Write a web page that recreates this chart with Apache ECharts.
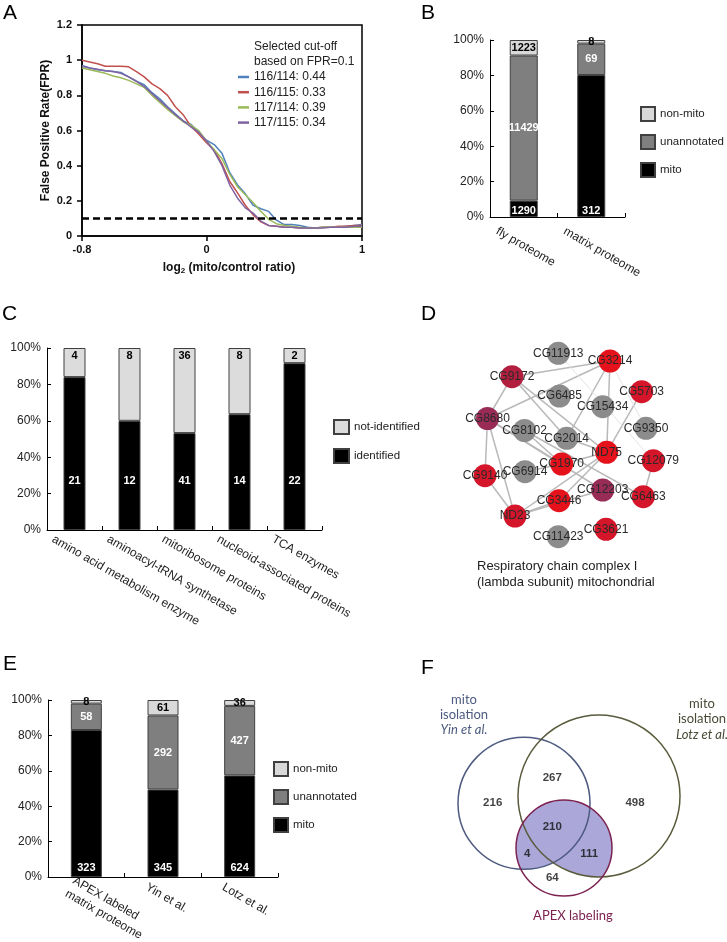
<!DOCTYPE html>
<html><head><meta charset="utf-8">
<script src="https://cdn.jsdelivr.net/npm/echarts@6.0.0/dist/echarts.min.js"></script>
<style>html,body{margin:0;padding:0;background:#fff}#c{width:727px;height:942px}</style>
</head><body><div id="c"></div>
<script>
// ---------- Panel A data ----------
const fprX = [-0.8,-0.75,-0.7,-0.65,-0.6,-0.55,-0.5,-0.45,-0.4,-0.35,-0.3,-0.25,-0.2,-0.15,-0.1,-0.05,0,0.05,0.1,0.15,0.2,0.25,0.3,0.35,0.4,0.45,0.5,0.55,0.6,0.65,0.7,0.75,0.8,0.85,0.9,0.95,1.0];
const fpr116_114 = [0.97,0.955,0.945,0.94,0.935,0.93,0.905,0.88,0.86,0.815,0.78,0.735,0.695,0.655,0.635,0.59,0.545,0.52,0.47,0.36,0.29,0.24,0.175,0.155,0.14,0.09,0.065,0.065,0.06,0.05,0.045,0.05,0.05,0.05,0.055,0.06,0.065];
const fpr116_115 = [1.0,0.99,0.98,0.965,0.965,0.965,0.962,0.935,0.905,0.865,0.838,0.80,0.735,0.69,0.625,0.58,0.53,0.49,0.41,0.31,0.245,0.175,0.12,0.08,0.06,0.055,0.05,0.05,0.045,0.045,0.045,0.05,0.05,0.055,0.055,0.06,0.06];
const fpr117_114 = [0.955,0.945,0.935,0.925,0.91,0.90,0.885,0.865,0.845,0.80,0.76,0.72,0.685,0.65,0.63,0.60,0.54,0.49,0.44,0.35,0.28,0.235,0.19,0.14,0.095,0.07,0.06,0.055,0.05,0.045,0.045,0.05,0.05,0.05,0.05,0.05,0.05];
const fpr117_115 = [0.965,0.955,0.948,0.94,0.935,0.925,0.905,0.88,0.85,0.81,0.77,0.73,0.69,0.655,0.62,0.59,0.54,0.48,0.40,0.29,0.215,0.16,0.13,0.085,0.06,0.055,0.05,0.05,0.045,0.045,0.045,0.045,0.05,0.05,0.05,0.055,0.055];
const ratioNames = ['116/114','116/115','117/114','117/115'];
const cutoffs = [0.44,0.33,0.39,0.34];
const fprThreshold = 0.1;
const aXTicks = [-0.8, 0, 1];

// ---------- Panel B data ----------
const bCategories = ['fly proteome','matrix proteome'];
const bMito = [1290, 312];
const bUnannotated = [11429, 69];
const bNonMito = [1223, 8];

// ---------- Panel C data ----------
const cCategories = ['amino acid metabolism enzyme','aminoacyl-tRNA synthetase','mitoribosome proteins','nucleoid-associated proteins','TCA enzymes'];
const cIdentified = [21,12,41,14,22];
const cNotIdentified = [4,8,36,8,2];

// ---------- Panel D data (network) ----------
const dNodeNames = ['CG11913','CG3214','CG9172','CG5703','CG6485','CG15434','CG8680','CG9350','CG8102','CG2014','ND75','CG12079','CG1970','CG6914','CG9140','CG12203','CG6463','CG3446','ND23','CG11423','CG3621'];
const dNodeX = [88.3,140,42,171.7,89.5,132.7,17.5,176,54.5,96.7,136.7,183.3,91.7,55,15,132.7,173.3,89,45,88.3,136];
const dNodeY = [13.3,21,36.7,51.7,56,66.7,78.5,88.3,90.5,98.3,112.3,120.7,124,131.7,135.7,150,156.7,160.7,176,196.7,189.3];
const dNodeClass = ['none','high','mid','med','none','none','low','none','none','none','high','med','high','none','med','low','med','high','med','none','med'];
const dLinks = [
  ['CG9172','CG3214'],['CG9172','CG8680'],['CG9172','CG2014'],['CG9172','ND75'],
  ['CG8680','CG3214'],['CG8680','CG9140'],['CG8680','ND23'],['CG8680','CG1970'],['CG8680','CG12203'],
  ['CG8102','CG1970'],['CG8102','CG6463'],['CG3214','CG2014'],['CG3214','ND75'],
  ['CG5703','ND75'],['CG2014','ND75'],['ND75','CG1970'],['ND75','ND23'],['ND75','CG3446'],
  ['CG12079','CG6463'],['CG9140','ND23'],['ND23','CG3446'],['ND23','CG12203'],['CG6914','CG1970']
];
const dFaintLinks = [['CG11913','CG12079'],['CG3214','CG9350']];

// ---------- Panel E data ----------
const eCategories = ['APEX labeled\nmatrix proteome','Yin et al.','Lotz et al.'];
const eMito = [323,345,624];
const eUnannotated = [58,292,427];
const eNonMito = [8,61,36];

// ---------- Panel F data (Venn) ----------
const vennCx = [104,179,144];
const vennCy = [123.3,116,168];
const vennR = [66,81,48];
const vennCounts = [216,267,498,210,4,111,64];
const vennCountX = [72.7,132.3,215,132.3,107.3,169.3,132.3];
const vennCountY = [123.3,98.3,122.7,147.3,174.3,174.3,198.3];

// ---------- helpers ----------
const SANS = "'Liberation Sans', Arial, sans-serif";
const NARROW = "'Liberation Sans Narrow', 'Arial Narrow', 'Liberation Sans', sans-serif";
function percents(parts) {
  return parts.map(p => p.map((v, i) => 100 * v / parts.reduce((s, q) => s + q[i], 0)));
}
const [bMitoP, bUnP, bNonP] = percents([bMito, bUnannotated, bNonMito]);
const [cIdP, cNotP] = percents([cIdentified, cNotIdentified]);
const [eMitoP, eUnP, eNonP] = percents([eMito, eUnannotated, eNonMito]);

const aColors = ['#4f81bd','#c0504d','#9bbb59','#8064a2'];
const cMito = '#000000', cUn = '#7f7f7f', cNon = '#d9d9d9';
const nodeColors = {none:'#8c8c8c', high:'#e5121c', med:'#d5162a', mid:'#b21e3e', low:'#982c56'};

function barAxisY(grid) {
  return {type:'value', gridIndex:grid, min:0, max:100, interval:20,
    axisLine:{show:true, onZero:false, lineStyle:{color:'#000', width:1}},
    axisTick:{show:true, inside:true, length:4, lineStyle:{color:'#000'}},
    splitLine:{show:false},
    axisLabel:{formatter:'{value}%', fontSize:12, color:'#222', fontFamily:SANS, margin:6}};
}
function barAxisX(grid, data, margin, shift) {
  return {type:'category', gridIndex:grid, data:data,
    axisLine:{show:true, onZero:false, lineStyle:{color:'#000', width:1}},
    axisTick:{show:true, inside:true, length:4, lineStyle:{color:'#000'}},
    axisLabel:{interval:0, rotate:-30, margin:margin, padding:[0,0,0,-shift], fontSize:12, color:'#222', fontFamily:SANS, lineHeight:15}};
}
function labelFn(counts) { return p => String(counts[p.dataIndex]); }
function barSeries(name, grid, stack, data, color, counts, barWidth, labelCfg) {
  return {type:'bar', name:name, xAxisIndex:grid, yAxisIndex:grid, stack:stack, data:data,
    barWidth:barWidth, itemStyle:{color:color, borderColor:'#404040', borderWidth:1},
    label:Object.assign({show:true, formatter:labelFn(counts), fontWeight:'bold', fontSize:11, fontFamily:NARROW}, labelCfg),
    emphasis:{disabled:true}, silent:true};
}

const aSeries = [fpr116_114, fpr116_115, fpr117_114, fpr117_115].map((arr, k) => ({
  type:'line', name: ratioNames[k] + ': ' + cutoffs[k], xAxisIndex:0, yAxisIndex:0,
  data: fprX.map((x, i) => [x, arr[i]]), symbol:'none', showSymbol:false,
  lineStyle:{color:aColors[k], width:1.5}, itemStyle:{color:aColors[k]}, z:3, silent:true,
  emphasis:{disabled:true}
}));
aSeries[3].markLine = {silent:true, symbol:['none','none'], label:{show:false},
  lineStyle:{color:'#000', type:[7,4], width:2.5}, data:[{yAxis: fprThreshold}], z:5};

const graphNodes = dNodeNames.map((n, i) => ({name:n, value:[dNodeX[i], dNodeY[i]],
  itemStyle:{color: nodeColors[dNodeClass[i]]}}));
const graphLinks = dLinks.map(([s, t]) => ({source:s, target:t}))
  .concat(dFaintLinks.map(([s, t]) => ({source:s, target:t, lineStyle:{color:'#e4e4e4', width:1}})));

const vennStroke = ['#4d5b80','#5a5a3c','#7c2250'];

const option = {
  backgroundColor:'#fff',
  animation:false,
  grid:[
    {left:82, top:25, width:280, height:211, show:true, borderColor:'#000', borderWidth:1.5, backgroundColor:'transparent', outerBoundsMode:'none'},
    {left:490, top:40, width:135, height:177, outerBoundsMode:'none'},
    {left:47, top:348, width:275, height:182, outerBoundsMode:'none'},
    {left:470, top:340, width:210, height:210, outerBoundsMode:'none'},
    {left:48, top:700, width:230, height:177, outerBoundsMode:'none'},
    {left:420, top:680, width:300, height:240, outerBoundsMode:'none'}
  ],
  xAxis:[
    {type:'value', gridIndex:0, min:-0.8, max:1, interval:0.2,
      name:'{b|log}{s|2}{b| (mito/control ratio)}', nameLocation:'middle', nameGap:25,
      nameTextStyle:{padding:[0,0,0,14], rich:{b:{fontSize:12, fontWeight:'bold', color:'#111', fontFamily:SANS, lineHeight:14},
        s:{fontSize:8, fontWeight:'bold', color:'#111', fontFamily:SANS, lineHeight:9, verticalAlign:'bottom'}}},
      axisLine:{show:true, onZero:false, lineStyle:{color:'#000', width:1.5}},
      axisTick:{show:true, length:5, customValues:aXTicks, lineStyle:{color:'#000', width:1.5}},
      axisLabel:{customValues:aXTicks, formatter:v => String(Math.round(v*10)/10), fontSize:11, fontWeight:'bold', color:'#111', fontFamily:SANS, margin:8},
      splitLine:{show:false}},
    barAxisX(1, bCategories, 29, 31),
    barAxisX(2, cCategories, 21, 25),
    {type:'value', gridIndex:3, min:0, max:210, show:false},
    barAxisX(4, eCategories, 19, 19),
    {type:'value', gridIndex:5, min:0, max:300, show:false}
  ],
  yAxis:[
    {type:'value', gridIndex:0, min:0, max:1.2, interval:0.2,
      name:'False Positive Rate(FPR)', nameLocation:'middle', nameGap:30,
      nameTextStyle:{fontSize:12, fontWeight:'bold', color:'#111', fontFamily:SANS},
      axisLine:{show:true, onZero:false, lineStyle:{color:'#000', width:1.5}},
      axisTick:{show:true, length:5, lineStyle:{color:'#000', width:1.5}},
      axisLabel:{formatter:v => String(Math.round(v*10)/10), fontSize:11, fontWeight:'bold', color:'#111', fontFamily:SANS, margin:10},
      splitLine:{show:false}},
    barAxisY(1),
    barAxisY(2),
    {type:'value', gridIndex:3, min:0, max:210, inverse:true, show:false},
    barAxisY(4),
    {type:'value', gridIndex:5, min:0, max:240, inverse:true, show:false}
  ],
  legend:[
    {left:238, top:70, orient:'vertical', padding:0, itemWidth:11, itemHeight:2.5, itemGap:1.2, icon:'rect',
      data: ratioNames.map((r, k) => r + ': ' + cutoffs[k]), selectedMode:false,
      textStyle:{fontSize:12, color:'#222', fontFamily:SANS, lineHeight:14}},
    {left:640, top:106, orient:'vertical', padding:0, itemWidth:14, itemHeight:14, itemGap:12, icon:'rect',
      data:['non-mito','unannotated','mito'], selectedMode:false,
      textStyle:{fontSize:11.5, color:'#222', fontFamily:NARROW}},
    {left:333, top:419, orient:'vertical', padding:0, itemWidth:15, itemHeight:14, itemGap:13, icon:'rect',
      data:['not-identified','identified'], selectedMode:false,
      textStyle:{fontSize:11.5, color:'#222', fontFamily:NARROW}},
    {left:273, top:761, orient:'vertical', padding:0, itemWidth:14, itemHeight:14, itemGap:12, icon:'rect',
      data:['non-mito','unannotated','mito'], selectedMode:false,
      textStyle:{fontSize:11.5, color:'#222', fontFamily:NARROW}}
  ],
  series: [].concat(aSeries, [
    barSeries('mito', 1, 'b', bMitoP, cMito, bMito, 28, {position:'insideBottom', distance:1, color:'#fff'}),
    barSeries('unannotated', 1, 'b', bUnP, cUn, bUnannotated, 28, {position:'inside', color:'#fff'}),
    barSeries('non-mito', 1, 'b', bNonP, cNon, bNonMito, 28, {position:'inside', color:'#000'}),

    barSeries('identified', 2, 'c', cIdP, cMito, cIdentified, 22, {position:'insideBottom', distance:44, color:'#fff'}),
    barSeries('not-identified', 2, 'c', cNotP, '#dcdcdc', cNotIdentified, 22, {position:'insideTop', distance:2, color:'#000'}),

    {type:'graph', coordinateSystem:'cartesian2d', xAxisIndex:3, yAxisIndex:3,
      symbol:'circle', symbolSize:23, data:graphNodes, links:graphLinks,
      label:{show:true, position:'inside', color:'#2a2a2a', fontSize:12, fontFamily:SANS},
      lineStyle:{color:'#b9b9b9', width:1.5, opacity:1, curveness:0},
      emphasis:{disabled:true}, silent:true, z:2},

    barSeries('mito', 4, 'e', eMitoP, cMito, eMito, 31, {position:'insideBottom', distance:4, color:'#fff'}),
    barSeries('unannotated', 4, 'e', eUnP, cUn, eUnannotated, 31, {position:'inside', color:'#fff'}),
    barSeries('non-mito', 4, 'e', eNonP, cNon, eNonMito, 31, {position:'inside', color:'#000'}),

    {type:'custom', coordinateSystem:'cartesian2d', xAxisIndex:5, yAxisIndex:5, silent:true, z:2,
      data: vennCx.map((x, i) => [x, vennCy[i], vennR[i]]),
      renderItem: function (params, api) {
        const c = api.coord([api.value(0), api.value(1)]);
        const r = api.size([api.value(2), 0])[0];
        if (params.dataIndex < 2) {
          return {type:'circle', shape:{cx:c[0], cy:c[1], r:r}, style:{fill:'#aba7d8', stroke:'none'}, z2:1};
        }
        const cs = params.coordSys;
        const x0 = cs.x, y0 = cs.y, x1 = cs.x + cs.width, y1 = cs.y + cs.height;
        const pd = 'M' + x0 + ' ' + y0 + 'L' + x1 + ' ' + y0 + 'L' + x1 + ' ' + y1 + 'L' + x0 + ' ' + y1 + 'Z' +
          'M' + (c[0] + r) + ' ' + c[1] + 'A' + r + ' ' + r + ' 0 1 0 ' + (c[0] - r) + ' ' + c[1] +
          'A' + r + ' ' + r + ' 0 1 0 ' + (c[0] + r) + ' ' + c[1] + 'Z';
        return {type:'path', shape:{pathData:pd}, style:{fill:'#fff', stroke:'none'}, z2:10};
      }},
    {type:'custom', coordinateSystem:'cartesian2d', xAxisIndex:5, yAxisIndex:5, silent:true, z:3,
      data: vennCx.map((x, i) => [x, vennCy[i], vennR[i]]),
      renderItem: function (params, api) {
        const c = api.coord([api.value(0), api.value(1)]);
        const r = api.size([api.value(2), 0])[0];
        return {type:'circle', shape:{cx:c[0], cy:c[1], r:r}, style:{fill:'none', stroke:vennStroke[params.dataIndex], lineWidth:1.5}};
      }},
    {type:'scatter', xAxisIndex:5, yAxisIndex:5, silent:true, z:4, symbolSize:1,
      itemStyle:{color:'rgba(0,0,0,0)'},
      data: vennCountX.map((x, i) => [x, vennCountY[i], vennCounts[i]]),
      label:{show:true, position:'inside', formatter:p => String(p.value[2]), fontWeight:'bold', fontSize:11.5, color:'#111', fontFamily:NARROW},
      emphasis:{disabled:true}}
  ]),
  graphic:[
    {type:'text', x:3, y:3, z:100, style:{text:'A', fontSize:21, fill:'#000', fontFamily:SANS}},
    {type:'text', x:421, y:3, z:100, style:{text:'B', fontSize:21, fill:'#000', fontFamily:SANS}},
    {type:'text', x:2, y:304, z:100, style:{text:'C', fontSize:21, fill:'#000', fontFamily:SANS}},
    {type:'text', x:421, y:304, z:100, style:{text:'D', fontSize:21, fill:'#000', fontFamily:SANS}},
    {type:'text', x:3, y:654, z:100, style:{text:'E', fontSize:21, fill:'#000', fontFamily:SANS}},
    {type:'text', x:421, y:658, z:100, style:{text:'F', fontSize:21, fill:'#000', fontFamily:SANS}},
    {type:'text', x:254, y:39, z:100, style:{text:'Selected cut-off\nbased on FPR=0.1', fontSize:12, lineHeight:15, fill:'#222', fontFamily:SANS}},
    {type:'text', x:477, y:558, z:100, style:{text:'Respiratory chain complex I\n(lambda subunit) mitochondrial', fontSize:13, lineHeight:16, fill:'#222', fontFamily:SANS}},
    {type:'text', x:464, y:714.6, z:100, style:{text:'mito\nisolation\n{i|Yin et al.}', align:'center', verticalAlign:'middle',
      fontSize:13, lineHeight:15, fill:'#4d5b80', fontFamily:'Lato, sans-serif',
      rich:{i:{fontStyle:'italic', fontSize:13, lineHeight:15, fill:'#4d5b80', fontFamily:'Lato, sans-serif'}}}},
    {type:'text', x:702, y:719, z:100, style:{text:'mito\nisolation\n{i|Lotz et al.}', align:'center', verticalAlign:'middle',
      fontSize:13, lineHeight:15.5, fill:'#4a4a36', fontFamily:'Lato, sans-serif',
      rich:{i:{fontStyle:'italic', fontSize:13, lineHeight:15.5, fill:'#4a4a36', fontFamily:'Lato, sans-serif'}}}},
    {type:'text', x:573, y:916, z:100, style:{text:'APEX labeling', align:'center', verticalAlign:'middle',
      fontSize:13, fill:'#7c2250', fontFamily:'Lato, sans-serif'}}
  ]
};
const chart = echarts.init(document.getElementById('c'), null, {renderer:'canvas'});
chart.setOption(option);
</script></body></html>
